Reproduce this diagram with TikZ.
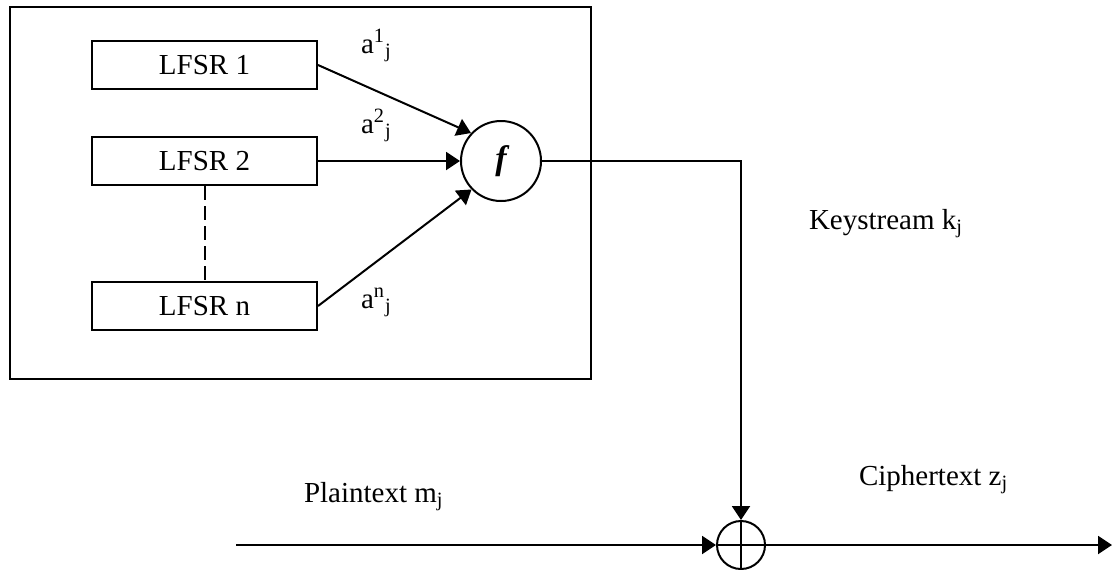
\documentclass[tikz,border=0pt]{standalone}
\usepackage{fontspec}
\setmainfont{Liberation Serif}
\usetikzlibrary{arrows.meta}
\begin{document}
\begin{tikzpicture}[x=0.5pt,y=-0.5pt, line width=1pt,
  >={Triangle[length=7pt,width=9pt]},
  frame/.style={draw, minimum width=290.5pt, minimum height=186pt, inner sep=0},
  lfsr/.style={draw, minimum width=112.5pt, minimum height=24pt, inner sep=0, font=\fontsize{14.5}{16}\selectfont},
  func/.style={draw, circle, minimum size=40pt, inner sep=0, font=\fontsize{17}{18}\selectfont\bfseries\itshape},
  xorc/.style={draw, circle, minimum size=24pt, inner sep=0},
  lbl/.style={anchor=base west, inner sep=0, font=\fontsize{14.5}{16}\selectfont},
  dashline/.style={dash pattern=on 7pt off 3pt}
]
\useasboundingbox (0,0) rectangle (1112,569);
\node[frame] (box) at (300.5,193) {};
\node[lfsr] (l1) at (204.5,65) {LFSR 1};
\node[lfsr] (l2) at (204.5,161) {LFSR 2};
\node[lfsr] (ln) at (204.5,306) {LFSR n};
\node[func] (f) at (501,161) {\textbf{\textit{f}}};
\node[xorc] (x) at (741,545) {};
\coordinate (pin) at (236,545);
\coordinate (cout) at (1112,545);

\draw[dashline] (l2.south) -- (ln.north);
\draw[->] (l1.east) -- (f.137);
\draw[->] (l2.east) -- (f.west);
\draw[->] (ln.east) -- (f.224);
\draw[->] (f.east) -| (x.north);
\draw (x.north) -- (x.south);
\draw (x.west) -- (x.east);
\draw[->] (pin) -- (x.west);
\draw[->] (x.east) -- (cout);

\node[lbl] (a1) at (360,53) {a\textsuperscript{1}\textsubscript{j}};
\node[lbl] (a2) at (360,133) {a\textsuperscript{2}\textsubscript{j}};
\node[lbl] (an) at (360,308) {a\textsuperscript{n}\textsubscript{j}};
\node[lbl] (ks) at (808,229) {Keystream k\textsubscript{j}};
\node[lbl] (ct) at (858,485) {Ciphertext z\textsubscript{j}};
\node[lbl] (pt) at (303,502) {Plaintext m\textsubscript{j}};
\end{tikzpicture}
\end{document}
